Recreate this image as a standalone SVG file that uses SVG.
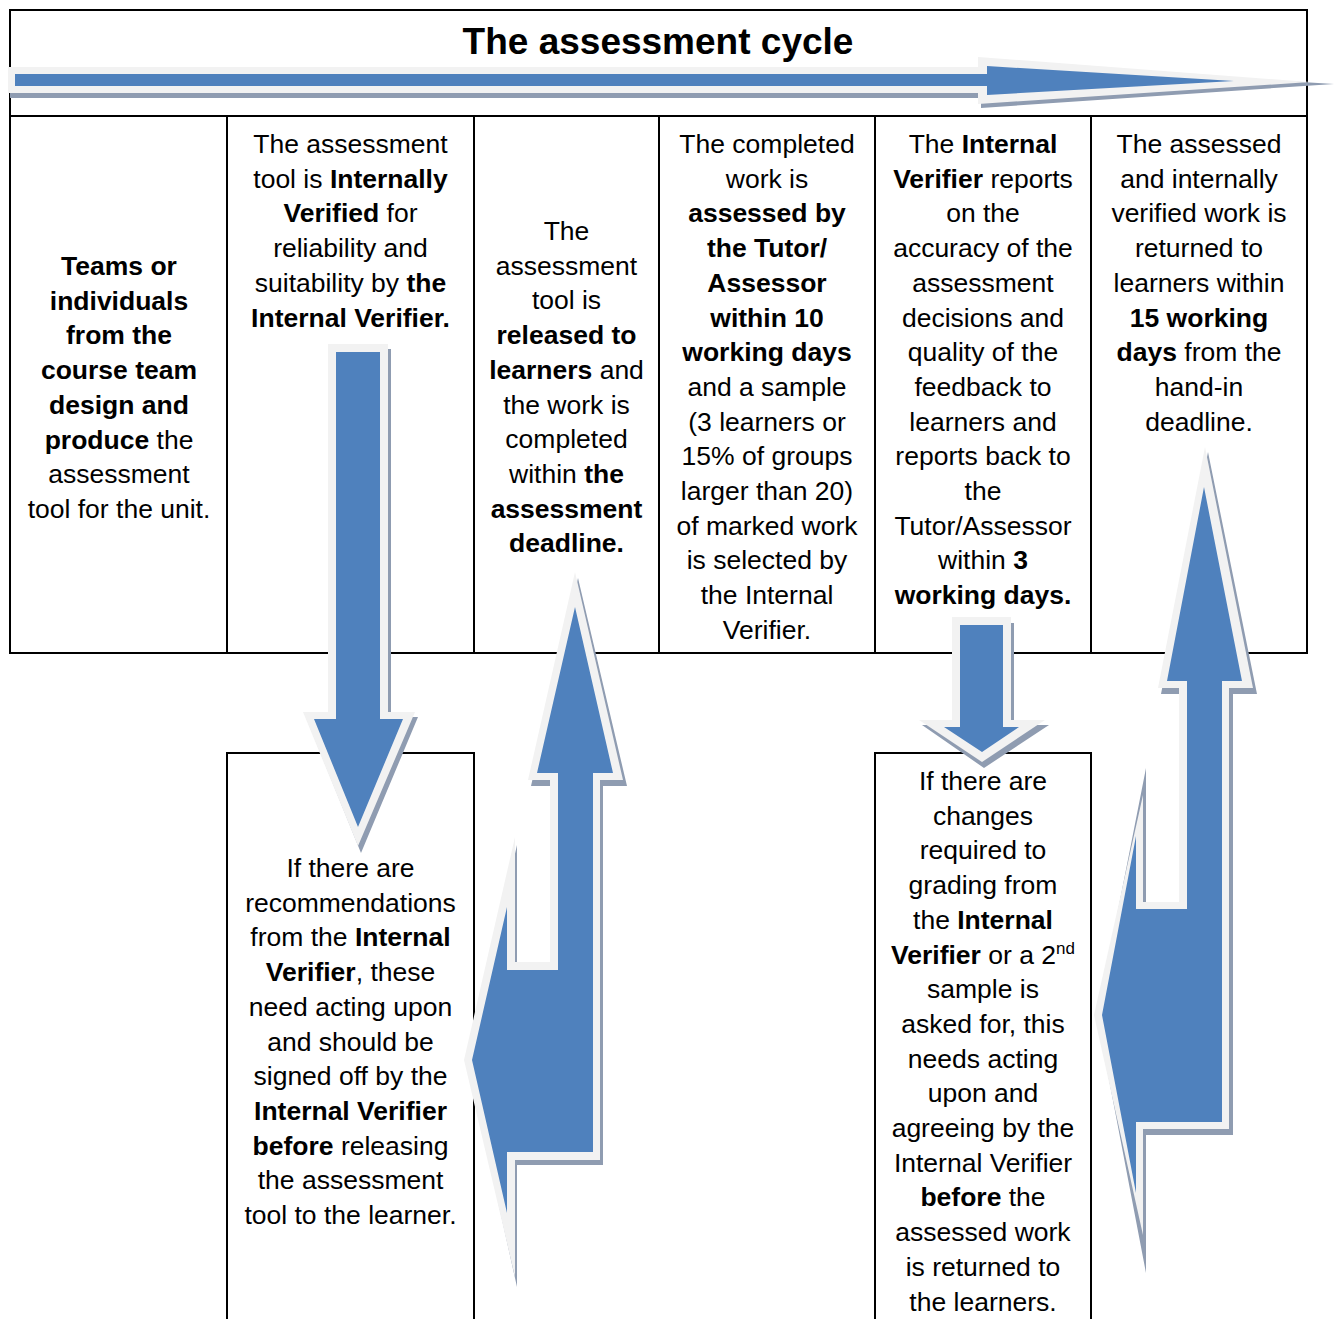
<svg xmlns="http://www.w3.org/2000/svg" width="1334" height="1319" viewBox="0 0 1334 1319">
<style>
.ln{fill:none;stroke:#000;stroke-width:2}
text{font-family:"Liberation Sans",Arial,sans-serif;font-size:26.5px;text-anchor:middle;fill:#000}
.b{font-weight:bold}
.ttl{font-size:37px;font-weight:bold}
.sh{fill:#8f9cb1}
.ol{fill:#f2f2f2}
.bl{fill:#4f81bd}
</style>
<rect width="1334" height="1319" fill="#fff"/>
<g id="table">
<rect class="ln" x="10" y="10" width="1297" height="643"/>
<line class="ln" x1="10" y1="116" x2="1307" y2="116"/>
<line class="ln" x1="227" y1="116" x2="227" y2="653"/>
<line class="ln" x1="474" y1="116" x2="474" y2="653"/>
<line class="ln" x1="659" y1="116" x2="659" y2="653"/>
<line class="ln" x1="875" y1="116" x2="875" y2="653"/>
<line class="ln" x1="1091" y1="116" x2="1091" y2="653"/>
</g>
<g id="title"><text class="ttl" x="658" y="54">The assessment cycle</text></g>
<g id="step1">
<text class="b" x="119" y="275">Teams or</text>
<text class="b" x="119" y="309.7">individuals</text>
<text class="b" x="119" y="344.4">from the</text>
<text class="b" x="119" y="379.1">course team</text>
<text class="b" x="119" y="413.8">design and</text>
<text x="119" y="448.5"><tspan class="b">produce</tspan> the</text>
<text x="119" y="483.2">assessment</text>
<text x="119" y="517.9">tool for the unit.</text>
</g>
<g id="step2">
<text x="350.5" y="153">The assessment</text>
<text x="350.5" y="187.7">tool is <tspan class="b">Internally</tspan></text>
<text x="350.5" y="222.4"><tspan class="b">Verified</tspan> for</text>
<text x="350.5" y="257.1">reliability and</text>
<text x="350.5" y="291.8">suitability by <tspan class="b">the</tspan></text>
<text class="b" x="350.5" y="326.5">Internal Verifier.</text>
</g>
<g id="step3">
<text x="566.5" y="240">The</text>
<text x="566.5" y="274.7">assessment</text>
<text x="566.5" y="309.4">tool is</text>
<text class="b" x="566.5" y="344.1">released to</text>
<text x="566.5" y="378.8"><tspan class="b">learners</tspan> and</text>
<text x="566.5" y="413.5">the work is</text>
<text x="566.5" y="448.2">completed</text>
<text x="566.5" y="482.9">within <tspan class="b">the</tspan></text>
<text class="b" x="566.5" y="517.6">assessment</text>
<text class="b" x="566.5" y="552.3">deadline.</text>
</g>
<g id="step4">
<text x="767" y="153">The completed</text>
<text x="767" y="187.7">work is</text>
<text class="b" x="767" y="222.4">assessed by</text>
<text class="b" x="767" y="257.1">the Tutor/</text>
<text class="b" x="767" y="291.8">Assessor</text>
<text class="b" x="767" y="326.5">within 10</text>
<text class="b" x="767" y="361.2">working days</text>
<text x="767" y="395.9">and a sample</text>
<text x="767" y="430.6">(3 learners or</text>
<text x="767" y="465.3">15% of groups</text>
<text x="767" y="500">larger than 20)</text>
<text x="767" y="534.7">of marked work</text>
<text x="767" y="569.4">is selected by</text>
<text x="767" y="604.1">the Internal</text>
<text x="767" y="638.8">Verifier.</text>
</g>
<g id="step5">
<text x="983" y="153">The <tspan class="b">Internal</tspan></text>
<text x="983" y="187.7"><tspan class="b">Verifier</tspan> reports</text>
<text x="983" y="222.4">on the</text>
<text x="983" y="257.1">accuracy of the</text>
<text x="983" y="291.8">assessment</text>
<text x="983" y="326.5">decisions and</text>
<text x="983" y="361.2">quality of the</text>
<text x="983" y="395.9">feedback to</text>
<text x="983" y="430.6">learners and</text>
<text x="983" y="465.3">reports back to</text>
<text x="983" y="500">the</text>
<text x="983" y="534.7">Tutor/Assessor</text>
<text x="983" y="569.4">within <tspan class="b">3</tspan></text>
<text class="b" x="983" y="604.1">working days.</text>
</g>
<g id="step6">
<text x="1199" y="153">The assessed</text>
<text x="1199" y="187.7">and internally</text>
<text x="1199" y="222.4">verified work is</text>
<text x="1199" y="257.1">returned to</text>
<text x="1199" y="291.8">learners within</text>
<text class="b" x="1199" y="326.5">15 working</text>
<text x="1199" y="361.2"><tspan class="b">days</tspan> from the</text>
<text x="1199" y="395.9">hand-in</text>
<text x="1199" y="430.6">deadline.</text>
</g>
<g id="recommendations">
<path class="ln" d="M227,1320 V753 H474 V1320"/>
<text x="350.5" y="877">If there are</text>
<text x="350.5" y="911.7">recommendations</text>
<text x="350.5" y="946.4">from the <tspan class="b">Internal</tspan></text>
<text x="350.5" y="981.1"><tspan class="b">Verifier</tspan>, these</text>
<text x="350.5" y="1015.8">need acting upon</text>
<text x="350.5" y="1050.5">and should be</text>
<text x="350.5" y="1085.2">signed off by the</text>
<text class="b" x="350.5" y="1119.9">Internal Verifier</text>
<text x="350.5" y="1154.6"><tspan class="b">before</tspan> releasing</text>
<text x="350.5" y="1189.3">the assessment</text>
<text x="350.5" y="1224">tool to the learner.</text>
</g>
<g id="changes">
<path class="ln" d="M875,1320 V753 H1091 V1320"/>
<text x="983" y="790">If there are</text>
<text x="983" y="824.7">changes</text>
<text x="983" y="859.4">required to</text>
<text x="983" y="894.1">grading from</text>
<text x="983" y="928.8">the <tspan class="b">Internal</tspan></text>
<text x="983" y="963.5"><tspan class="b">Verifier</tspan> or a 2<tspan font-size="17" dy="-10">nd</tspan></text>
<text x="983" y="998.2">sample is</text>
<text x="983" y="1032.9">asked for, this</text>
<text x="983" y="1067.6">needs acting</text>
<text x="983" y="1102.3">upon and</text>
<text x="983" y="1137">agreeing by the</text>
<text x="983" y="1171.7">Internal Verifier</text>
<text x="983" y="1206.4"><tspan class="b">before</tspan> the</text>
<text x="983" y="1241.1">assessed work</text>
<text x="983" y="1275.8">is returned to</text>
<text x="983" y="1310.5">the learners.</text>
</g>
<g id="connectors">
<g id="arrow-cycle">
<polygon class="sh" points="10,72 981,72 981,62 1334,84 981,108 981,98 10,98"/>
<polygon class="ol" points="8,67 978,67 978,57 1310,82 978,104 978,93 8,93"/>
<polygon class="bl" points="15,74 987,74 987,66 1234,81 987,95 987,86 15,86"/>
</g>
<g id="arrow-down-1">
<polygon class="sh" points="331,349 391,349 391,717 418,717 361,853 306,717 331,717"/>
<polygon class="ol" points="328,344 388,344 388,712 415,712 358,846 303,712 328,712"/>
<polygon class="bl" points="336,352 380,352 380,719 403,719 358,827 314,719 336,719"/>
</g>
<g id="arrow-leftup-1">
<polygon class="sh" points="578,578 627,786 603,786 603,1165 517,1165 517,1287 467,1062 517,845 517,965 553,965 553,786 531,786"/>
<polygon class="ol" points="575,572 623,780 600,780 600,1160 515,1160 515,1277 464,1060 515,837 515,962 550,962 550,780 528,780"/>
<polygon class="bl" points="575,607 613,773 593,773 593,1152 507,1152 507,1213 472,1060 507,907 507,970 558,970 558,773 537,773"/>
</g>
<g id="arrow-down-2">
<polygon class="sh" points="955,623 1014,623 1014,725 1049,725 984,768 922,725 955,725"/>
<polygon class="ol" points="952,617 1011,617 1011,720 1045,720 982,762 919,720 952,720"/>
<polygon class="bl" points="960,625 1003,625 1003,727 1019,727 982,752 944,727 960,727"/>
</g>
<g id="arrow-leftup-2">
<polygon class="sh" points="1208,452 1257,694 1233,694 1233,1135 1146,1135 1146,1273 1097,1017 1146,768 1146,905 1182,905 1182,694 1161,694"/>
<polygon class="ol" points="1205,447 1253,688 1229,688 1229,1129 1143,1129 1143,1235 1094,1015 1143,795 1143,902 1179,902 1179,688 1158,688"/>
<polygon class="bl" points="1204,487 1242,681 1222,681 1222,1122 1136,1122 1136,1193 1102,1015 1136,836 1136,909 1187,909 1187,681 1167,681"/>
</g>
</g>
</svg>
